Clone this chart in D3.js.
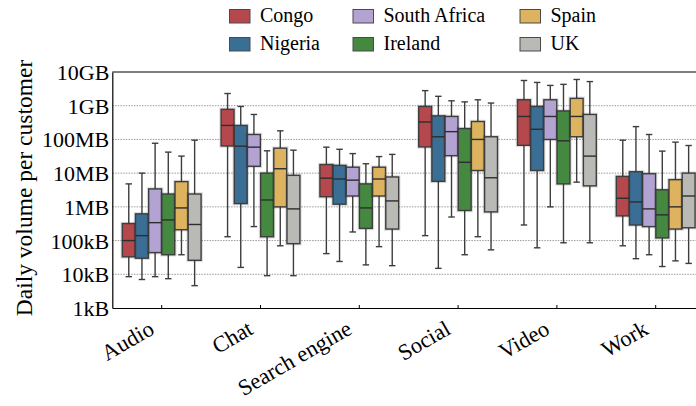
<!DOCTYPE html>
<html>
<head>
<meta charset="utf-8">
<script src="https://cdn.jsdelivr.net/npm/d3@7"></script>
<style>
body { margin: 0; background: #fff; }
svg text { font-family: "Liberation Serif", "DejaVu Serif", "Noto Serif", "Times New Roman", Tinos, Times, serif; }
</style>
</head>
<body>
<svg id="chart"></svg>
<script>
// Size of chart svg
var width = 696;
var height = 406;

const categories = ["Audio", "Chat", "Search engine", "Social", "Video", "Work"];
const countries = ["Congo", "Nigeria", "South Africa", "Ireland", "Spain", "UK"];
const colors = ["#b5484c", "#3a6e95", "#b3a3d3", "#44893f", "#ddb35f", "#b9bab6"];
const yTicks = [1e3, 1e4, 1e5, 1e6, 1e7, 1e8, 1e9, 1e10];
const yTickLabels = ["1kB", "10kB", "100kB", "1MB", "10MB", "100MB", "1GB", "10GB"];

// bytes per day: [whisker low, q1, median, q3, whisker high], one row per category
const congo = [
    [8.5e3, 3.3e4, 1.0e5, 3.2e5, 4.8e6],
    [1.3e5, 6.4e7, 2.6e8, 7.8e8, 2.3e9],
    [4.1e4, 2.0e6, 7.1e6, 1.8e7, 5.9e7],
    [1.4e5, 6.0e7, 3.3e8, 9.5e8, 2.8e9],
    [2.9e5, 6.7e7, 4.8e8, 1.5e9, 5.6e9],
    [7.0e4, 5.4e5, 1.8e6, 8.0e6, 9.5e7]
];
const nigeria = [
    [7.0e3, 3.0e4, 1.4e5, 6.2e5, 1.0e7],
    [1.6e4, 1.25e6, 6.3e7, 2.6e8, 9.5e8],
    [2.4e4, 1.2e6, 6.7e6, 1.7e7, 5.1e7],
    [1.5e4, 5.7e6, 1.2e8, 5.0e8, 1.9e9],
    [6.1e4, 1.2e7, 2.0e8, 9.5e8, 4.9e9],
    [2.9e4, 2.9e5, 1.4e6, 1.1e7, 2.4e8]
];
const southAfrica = [
    [8.5e3, 4.4e4, 3.4e5, 3.4e6, 7.7e7],
    [2.6e5, 1.6e7, 5.9e7, 1.4e8, 5.5e8],
    [1.8e5, 2.1e6, 6.2e6, 1.5e7, 3.8e7],
    [5.0e5, 3.3e7, 1.7e8, 4.8e8, 1.4e9],
    [1.0e6, 1.0e8, 4.8e8, 1.5e9, 4.0e9],
    [3.8e4, 2.6e5, 8.7e5, 9.6e6, 1.4e8]
];
const ireland = [
    [7.4e3, 3.8e4, 4.1e5, 2.4e6, 4.2e7],
    [9.1e3, 1.3e5, 1.6e6, 1.0e7, 4.6e7],
    [1.9e4, 2.3e5, 9.3e5, 4.8e6, 1.9e7],
    [3.8e4, 7.8e5, 2.1e7, 2.1e8, 1.3e9],
    [8.6e4, 4.8e6, 9.1e7, 7.0e8, 4.3e9],
    [1.7e4, 1.2e5, 5.8e5, 3.2e6, 4.5e7]
];
const spain = [
    [3.8e4, 2.1e5, 9.3e5, 5.6e6, 3.2e7],
    [7.0e4, 1.0e6, 1.35e7, 5.5e7, 1.8e8],
    [6.6e4, 2.1e6, 6.7e6, 1.5e7, 3.1e7],
    [1.3e5, 1.2e7, 1.0e8, 3.4e8, 1.5e9],
    [5.4e6, 1.2e8, 4.8e8, 1.65e9, 6.0e9],
    [2.5e4, 2.2e5, 1.0e6, 6.4e6, 8.3e7]
];
const uk = [
    [4.6e3, 2.6e4, 3.0e5, 2.4e6, 9.5e7],
    [9.1e3, 8.1e4, 8.7e5, 8.6e6, 4.8e7],
    [1.8e4, 2.2e5, 1.5e6, 7.7e6, 3.6e7],
    [5.3e4, 7.1e5, 7.3e6, 1.2e8, 1.2e9],
    [8.6e4, 4.2e6, 3.2e7, 5.5e8, 5.2e9],
    [2.1e4, 2.4e5, 2.1e6, 1.0e7, 6.6e7]
];
const series = [congo, nigeria, southAfrica, ireland, spain, uk];

const margin = {left: 112.3, top: 72, bottom: 308};

const svg = d3.select("#chart")
    .attr("width", width)
    .attr("height", height);

const x = d3.scaleBand()
    .domain(categories)
    .range([margin.left, margin.left + 98.8 * 6]);

const y = d3.scaleLog()
    .domain([1e3, 1e10])
    .range([margin.bottom, margin.top]);

const inner = d3.scaleBand()
    .domain(countries)
    .range([0, x.bandwidth() * 0.8]);

// grid lines
svg.append("g")
    .selectAll("line")
    .data(yTicks.slice(1, -1))
    .join("line")
    .attr("x1", margin.left)
    .attr("x2", width)
    .attr("y1", d => y(d))
    .attr("y2", d => y(d))
    .attr("stroke", "#9a9a9a")
    .attr("stroke-width", 1)
    .attr("stroke-dasharray", "1.5,1.2");

// boxes
const flat = [];
series.forEach((s, j) => s.forEach((v, i) => flat.push({cat: categories[i], country: countries[j], j: j, v: v})));

const boxW = inner.bandwidth() * 0.98;
const cx = d => x(d.cat) + x.bandwidth() * 0.1 + inner(d.country) + inner.bandwidth() / 2;

const box = svg.append("g")
    .selectAll("g")
    .data(flat)
    .join("g");

box.append("line")
    .attr("x1", cx).attr("x2", cx)
    .attr("y1", d => y(d.v[0])).attr("y2", d => y(d.v[4]))
    .attr("stroke", "#3d3d3d").attr("stroke-width", 1.4);

box.selectAll("line.cap")
    .data(d => [d, d].map((e, k) => ({d: e, v: e.v[k * 4]})))
    .join("line")
    .attr("class", "cap")
    .attr("x1", e => cx(e.d) - boxW / 4).attr("x2", e => cx(e.d) + boxW / 4)
    .attr("y1", e => y(e.v)).attr("y2", e => y(e.v))
    .attr("stroke", "#3d3d3d").attr("stroke-width", 1.4);

// soft halo around each box
box.append("rect")
    .attr("x", d => cx(d) - boxW / 2).attr("width", boxW)
    .attr("y", d => y(d.v[3])).attr("height", d => y(d.v[1]) - y(d.v[3]))
    .attr("fill", "none").attr("stroke", "rgba(0,0,0,0.13)").attr("stroke-width", 3.6);

box.append("rect")
    .attr("x", d => cx(d) - boxW / 2).attr("width", boxW)
    .attr("y", d => y(d.v[3])).attr("height", d => y(d.v[1]) - y(d.v[3]))
    .attr("fill", d => colors[d.j]).attr("stroke", "#3d3d3d").attr("stroke-width", 1.4);

box.append("line")
    .attr("x1", d => cx(d) - boxW / 2).attr("x2", d => cx(d) + boxW / 2)
    .attr("y1", d => y(d.v[2])).attr("y2", d => y(d.v[2]))
    .attr("stroke", "#2e2e2e").attr("stroke-width", 1.4);

// axes
const yAxis = svg.append("g")
    .attr("transform", `translate(${margin.left},0)`)
    .call(d3.axisLeft(y).tickValues(yTicks).tickFormat((d, i) => yTickLabels[i]).tickSize(0).tickPadding(3))
    .attr("font-family", null)
    .attr("font-size", 22);
yAxis.select(".domain").attr("stroke", "#000").attr("stroke-width", 1.2);
yAxis.selectAll("text").attr("fill", "#000").attr("dy", "0.34em");

const xAxis = svg.append("g")
    .attr("transform", `translate(0,${margin.bottom})`)
    .call(d3.axisBottom(x).tickSizeInner(-3).tickSizeOuter(0).tickFormat(""));
xAxis.select(".domain").attr("stroke", "#000").attr("stroke-width", 1.2);
xAxis.selectAll(".tick line").attr("stroke", "#000");

svg.append("line")
    .attr("x1", margin.left).attr("x2", width)
    .attr("y1", margin.top).attr("y2", margin.top)
    .attr("stroke", "#000").attr("stroke-width", 1.2);

svg.append("g")
    .attr("font-size", 22.5)
    .selectAll("text")
    .data(categories)
    .join("text")
    .attr("transform", d => `translate(${x(d) + x.bandwidth() / 2 - 6},333) rotate(-30)`)
    .attr("text-anchor", "end")
    .text(d => d);

svg.append("text")
    .attr("transform", "translate(32,188) rotate(-90)")
    .attr("text-anchor", "middle")
    .attr("font-size", 23.5)
    .text("Daily volume per customer");

// legend, filled column by column
const legend = svg.append("g")
    .attr("font-size", 20)
    .selectAll("g")
    .data(countries)
    .join("g")
    .attr("transform", (d, i) => `translate(${[229.5, 353, 520][Math.floor(i / 2)]},${i % 2 ? 37.5 : 9.5})`);

legend.append("rect")
    .attr("width", 20.5).attr("height", 13.5)
    .attr("fill", (d, i) => colors[i])
    .attr("stroke", "#4a4a4a").attr("stroke-width", 1);

legend.append("text")
    .attr("x", 30.5).attr("y", 12.5)
    .text(d => d);
</script>
</body>
</html>
